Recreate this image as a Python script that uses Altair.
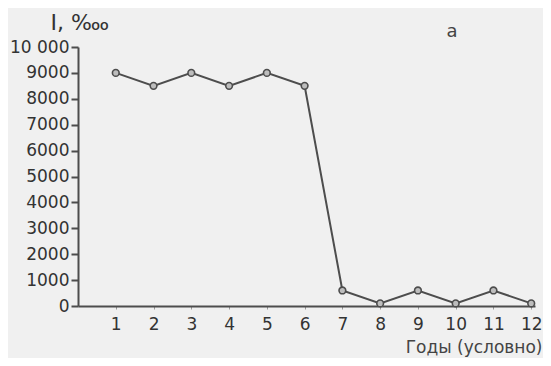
import altair as alt
import pandas as pd

years = [1, 2, 3, 4, 5, 6, 7, 8, 9, 10, 11, 12]
values = [9000, 8500, 9000, 8500, 9000, 8500, 600, 100, 600, 100, 600, 100]
y_ticks = [0, 1000, 2000, 3000, 4000, 5000, 6000, 7000, 8000, 9000, 10000]

df = pd.DataFrame({"year": years, "value": values})

FONT = "DejaVu Sans"
INK = "#4d4d4d"

x = alt.X(
    "year:Q",
    scale=alt.Scale(domain=[0, 12.1], nice=False, zero=False),
    axis=alt.Axis(
        values=years, title="Годы (условно)", grid=False, format="d",
        tickSize=3, tickColor="#999", labelPadding=7,
        domainColor=INK, domainWidth=2,
        labelFontSize=17, labelColor="#333", labelFont=FONT,
        titleFontSize=17, titleColor="#444", titleFont=FONT, titleFontWeight="normal",
        titleAnchor="end", titleAlign="right", titleX=464, titleY=46,
        titleBaseline="alphabetic",
    ),
)
y = alt.Y(
    "value:Q",
    scale=alt.Scale(domain=[0, 10000], nice=False),
    axis=alt.Axis(
        values=y_ticks, title="I, ‱", grid=False,
        labelExpr="datum.value == 10000 ? '10 000' : format(datum.value, 'd')",
        tickSize=7, tickColor=INK, tickWidth=2, labelPadding=2,
        domainColor=INK, domainWidth=2,
        labelFontSize=17, labelColor="#333", labelFont=FONT,
        titleFontSize=22, titleColor="#333", titleFont=FONT, titleFontWeight="normal",
        titleAngle=0, titleAlign="left", titleBaseline="alphabetic",
        titleX=-28, titleY=-18,
    ),
)

line = alt.Chart(df).mark_line(color=INK, strokeWidth=2).encode(x=x, y=y)
pts = alt.Chart(df).mark_point(
    shape="circle", size=45, filled=True, fill="#bdbdbd", stroke=INK, strokeWidth=1.6, opacity=1
).encode(x=x, y=y)

label = alt.Chart(pd.DataFrame({"t": ["а"]})).mark_text(
    font=FONT, fontSize=18, color="#444"
).encode(text="t:N", x=alt.value(374), y=alt.value(-15))

chart = (line + pts + label).properties(
    width=457, height=259,
    autosize=alt.AutoSizeParams(type="none"),
    padding={"left": 70, "top": 39, "right": 8, "bottom": 52},
).configure(background="#f0f0f0").configure_view(stroke=None)

chart.save("out.html", embed_options={"renderer": "svg", "actions": False})
